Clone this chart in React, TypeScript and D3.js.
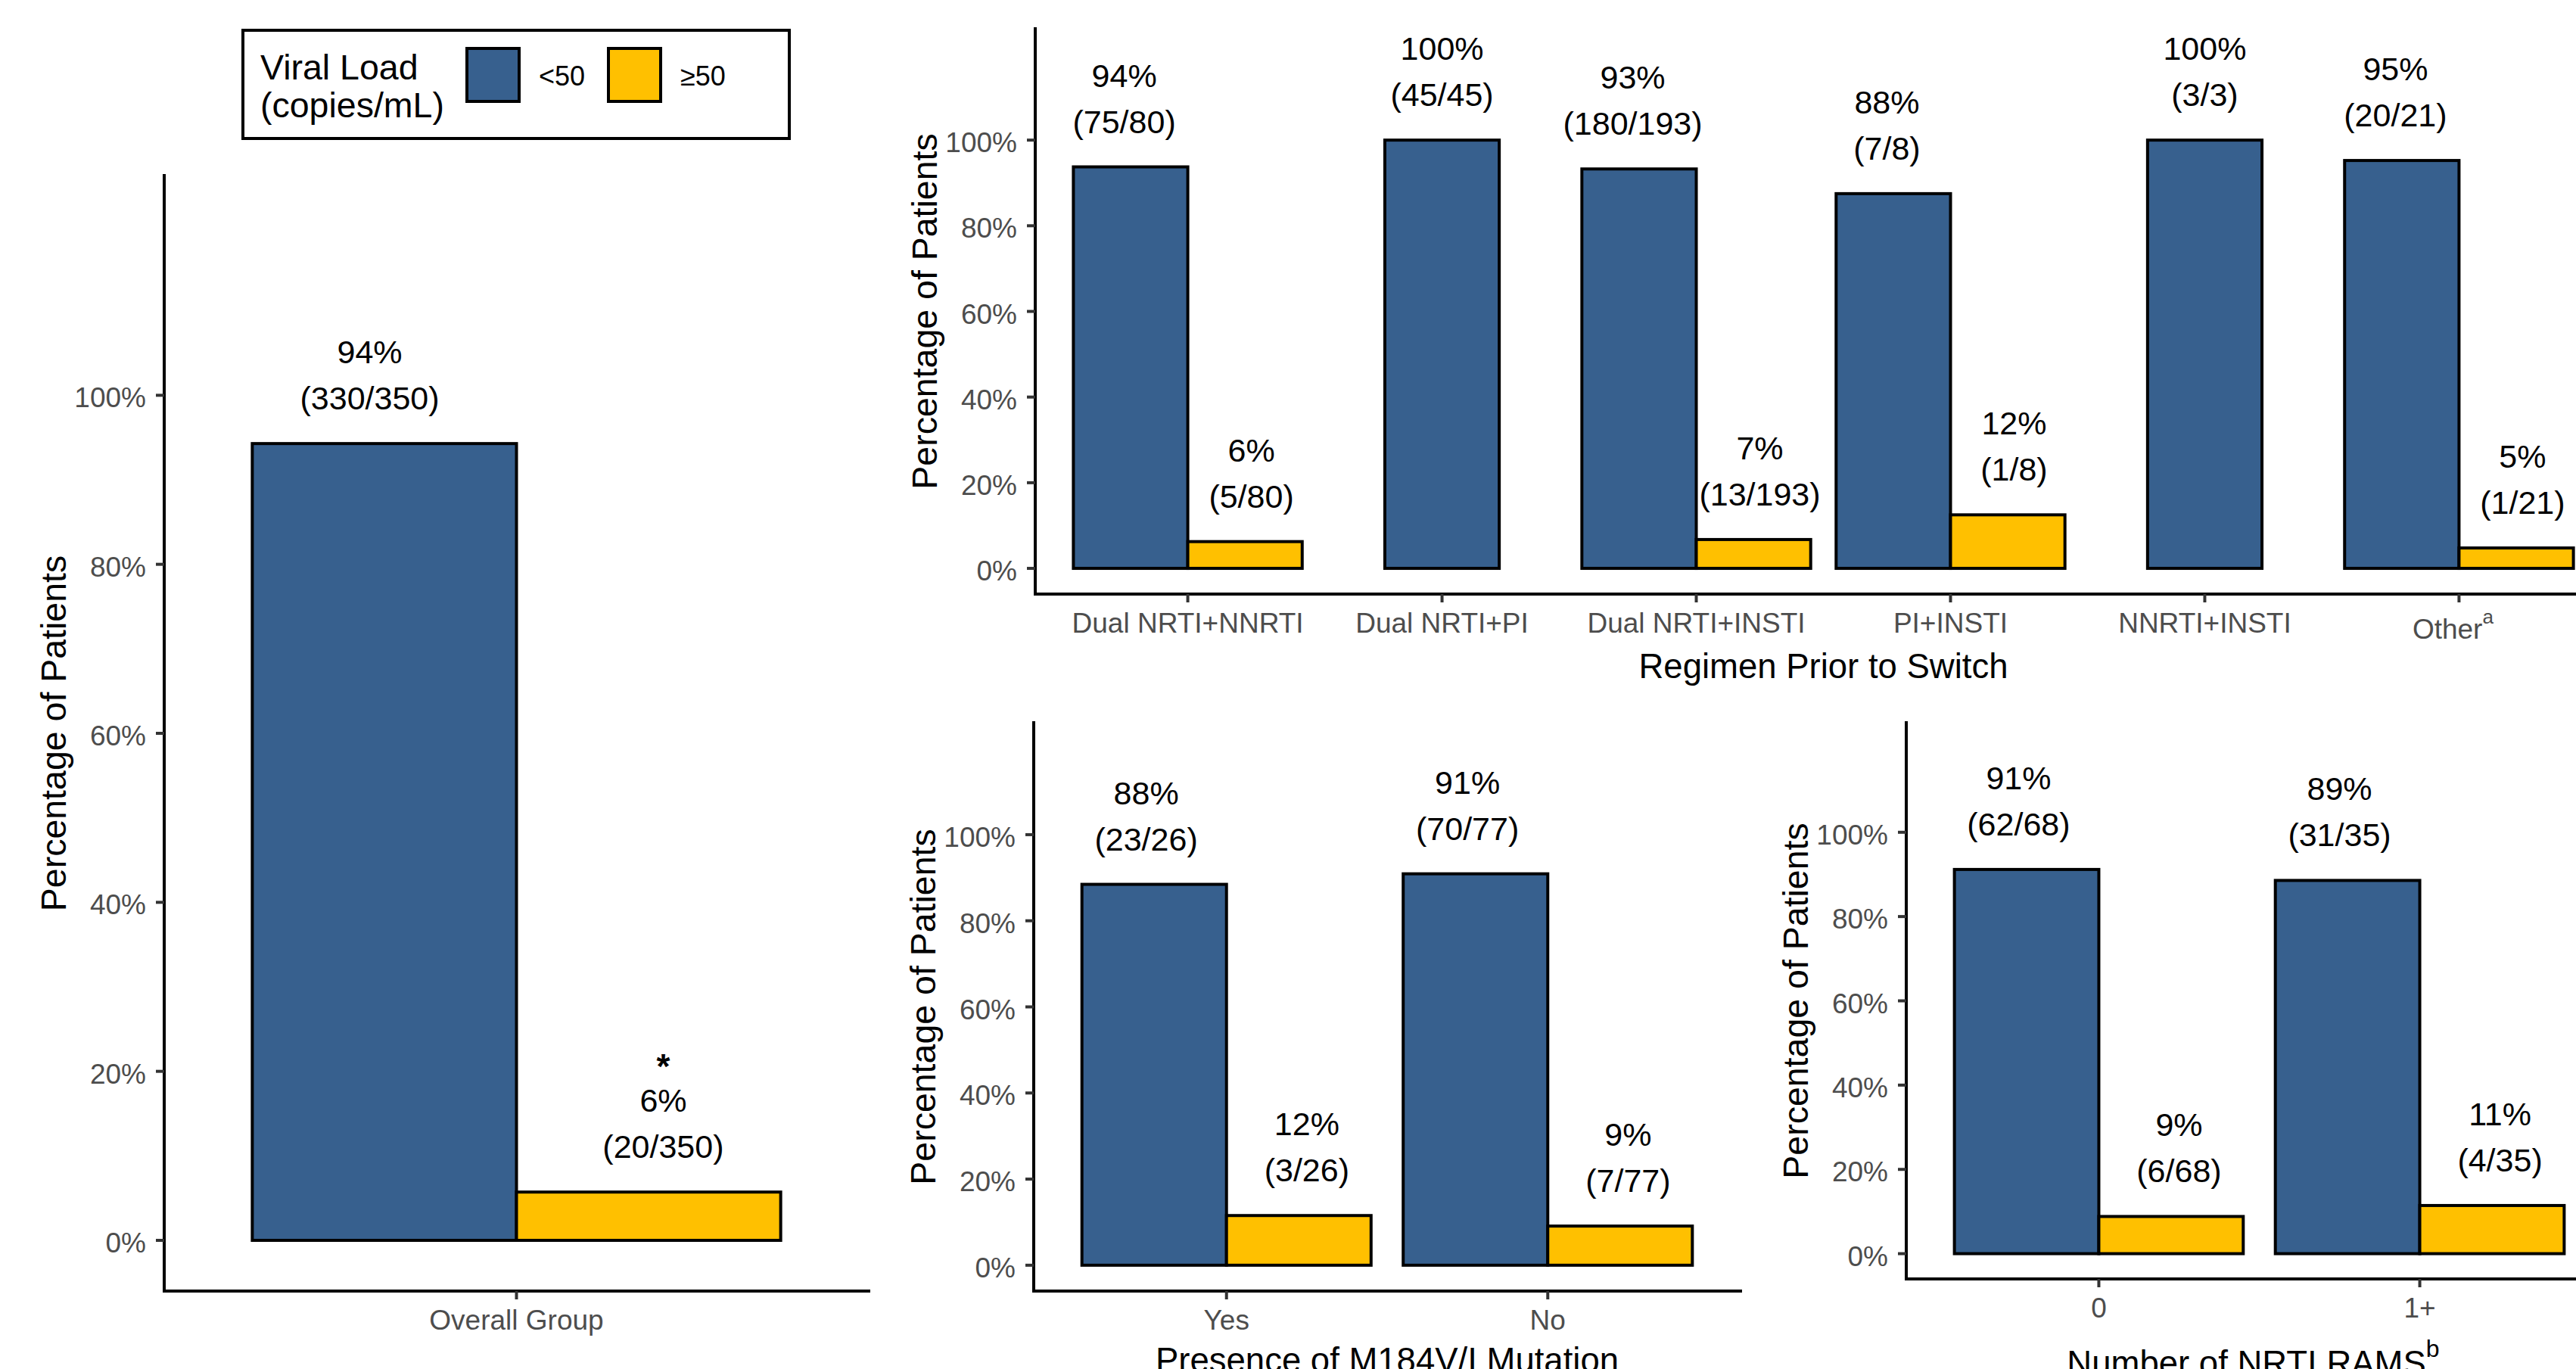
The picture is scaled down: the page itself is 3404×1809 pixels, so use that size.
import React from "react";
import * as d3 from "d3";

const BLUE = "#37608e";
const GOLD = "#ffc000";
const AXIS_GREY = "#4d4d4d";
const FONT = "'Liberation Sans', Arial, Helvetica, sans-serif";

// y ticks shared by every panel
const yTicks = [0, 0.2, 0.4, 0.6, 0.8, 1.0];

// legend
const legendTitle = ["Viral Load", "(copies/mL)"];
const legendKeys = ["<50", "≥50"];

// overall group
const overallCats = ["Overall Group"];
const overallSup = [""];
const overallBelow = [330];
const overallAbove = [20];
const overallTotal = [350];
const overallBelowPct = ["94%"];
const overallAbovePct = ["6%"];

// regimen prior to switch
const regimenCats = ["Dual NRTI+NNRTI", "Dual NRTI+PI", "Dual NRTI+INSTI", "PI+INSTI", "NNRTI+INSTI", "Other"];
const regimenSup = ["", "", "", "", "", "a"];
const regimenBelow = [75, 45, 180, 7, 3, 20];
const regimenAbove = [5, null, 13, 1, null, 1];
const regimenTotal = [80, 45, 193, 8, 3, 21];
const regimenBelowPct = ["94%", "100%", "93%", "88%", "100%", "95%"];
const regimenAbovePct = ["6%", "", "7%", "12%", "", "5%"];

// M184V/I mutation
const mutationCats = ["Yes", "No"];
const mutationSup = ["", ""];
const mutationBelow = [23, 70];
const mutationAbove = [3, 7];
const mutationTotal = [26, 77];
const mutationBelowPct = ["88%", "91%"];
const mutationAbovePct = ["12%", "9%"];

// NRTI RAMs
const ramsCats = ["0", "1+"];
const ramsSup = ["", ""];
const ramsBelow = [62, 31];
const ramsAbove = [6, 4];
const ramsTotal = [68, 35];
const ramsBelowPct = ["91%", "89%"];
const ramsAbovePct = ["9%", "11%"];

type PanelProps = {
  x0: number; x1: number; yTop: number; yBot: number;
  cats: string[]; sup: string[];
  below: (number | null)[]; above: (number | null)[]; total: number[];
  belowPct: string[]; abovePct: string[];
  xTitle: string; xTitleSup?: string; titleY: number;
  star?: boolean;
};

const Panel = (p: PanelProps) => {
  const x = d3.scalePoint<string>().domain(p.cats).range([p.x0, p.x1]).padding(0.6);
  const step = x.step();
  const y = d3.scaleLinear().domain([-0.06, 1.26]).range([p.yBot, p.yTop]);
  const midY = (p.yTop + p.yBot) / 2;
  const pctFmt = d3.format(".0%");

  const bars: JSX.Element[] = [];
  const labels: JSX.Element[] = [];
  p.cats.forEach((c, i) => {
    const cx = x(c) as number;
    const hasAbove = p.above[i] != null;
    const series = [
      { v: p.below[i], pct: p.belowPct[i], fill: BLUE, side: -1 },
      { v: p.above[i], pct: p.abovePct[i], fill: GOLD, side: 1 },
    ];
    series.forEach((s, j) => {
      if (s.v == null) return;
      const frac = s.v / p.total[i];
      let bx0, bx1, lx;
      if (hasAbove) {
        bx0 = s.side < 0 ? cx - 0.45 * step : cx;
        bx1 = s.side < 0 ? cx : cx + 0.45 * step;
        lx = cx + s.side * 0.25 * step;
      } else {
        // lone bar gets centred on its tick
        bx0 = cx - 0.225 * step;
        bx1 = cx + 0.225 * step;
        lx = cx;
      }
      const top = y(frac);
      bars.push(
        <rect key={`b${i}-${j}`} x={bx0} y={top} width={bx1 - bx0} height={y(0) - top}
          fill={s.fill} stroke="#000" strokeWidth={4} />
      );
      labels.push(
        <g key={`l${i}-${j}`} fontSize={43} textAnchor="middle" fill="#000">
          <text x={lx} y={top - 106}>{s.pct || pctFmt(frac)}</text>
          <text x={lx} y={top - 45}>{`(${s.v}/${p.total[i]})`}</text>
          {p.star && s.side > 0 && (
            <text x={lx} y={top - 150} fontSize={46} fontWeight="bold">*</text>
          )}
        </g>
      );
    });
  });

  return (
    <g fontFamily={FONT}>
      {bars}
      {labels}
      <line x1={p.x0} x2={p.x0} y1={p.yTop} y2={p.yBot} stroke="#000" strokeWidth={4} strokeLinecap="square" />
      <line x1={p.x0} x2={p.x1} y1={p.yBot} y2={p.yBot} stroke="#000" strokeWidth={4} strokeLinecap="square" />
      {yTicks.map((t) => (
        <g key={t}>
          <line x1={p.x0 - 11} x2={p.x0} y1={y(t)} y2={y(t)} stroke="#333" strokeWidth={4} />
          <text x={p.x0 - 24} y={y(t) + 16} textAnchor="end" fontSize={37} fill={AXIS_GREY}>
            {pctFmt(t)}
          </text>
        </g>
      ))}
      {p.cats.map((c, i) => (
        <g key={c}>
          <line x1={x(c)} x2={x(c)} y1={p.yBot} y2={p.yBot + 11} stroke="#333" strokeWidth={4} />
          <text x={(x(c) as number) + (p.sup[i] ? -8 : 0)} y={p.yBot + 51 + (p.sup[i] ? 8 : 0)}
            textAnchor="middle" fontSize={37} fill={AXIS_GREY}>
            {c}
            {p.sup[i] && <tspan dy={-20} fontSize={26}>{p.sup[i]}</tspan>}
          </text>
        </g>
      ))}
      <text transform={`translate(${p.x0 - 130},${midY}) rotate(-90)`} textAnchor="middle" fontSize={46.5} fill="#000">
        Percentage of Patients
      </text>
      <text x={(p.x0 + p.x1) / 2 - (p.xTitleSup ? 8 : 0)} y={p.titleY} textAnchor="middle" fontSize={45.5} fill="#000">
        {p.xTitle}
        {p.xTitleSup && <tspan dy={-24} fontSize={32}>{p.xTitleSup}</tspan>}
      </text>
    </g>
  );
};

const Legend = () => (
  <g fontFamily={FONT}>
    <rect x={321} y={40} width={722} height={143} fill="#fff" stroke="#000" strokeWidth={4} />
    <text x={344} y={105} fontSize={46.5}>{legendTitle[0]}</text>
    <text x={344} y={155} fontSize={46.5}>{legendTitle[1]}</text>
    {legendKeys.map((k, i) => (
      <g key={k}>
        <rect x={617 + i * 187} y={64} width={69} height={70} fill={i === 0 ? BLUE : GOLD} stroke="#000" strokeWidth={4} />
        <text x={712 + i * 187} y={113} fontSize={36}>{k}</text>
      </g>
    ))}
  </g>
);

export default function App() {
  return (
    <svg width={3404} height={1809} style={{ position: "absolute", left: 0, top: 0, display: "block", background: "#fff" }}>
      <rect width={3404} height={1809} fill="#fff" />
      <Legend />
      <Panel x0={217} x1={1148} yTop={232} yBot={1706}
        cats={overallCats} sup={overallSup} below={overallBelow} above={overallAbove} total={overallTotal}
        belowPct={overallBelowPct} abovePct={overallAbovePct} xTitle="" titleY={1830} star />
      <Panel x0={1368} x1={3451} yTop={38} yBot={785}
        cats={regimenCats} sup={regimenSup} below={regimenBelow} above={regimenAbove} total={regimenTotal}
        belowPct={regimenBelowPct} abovePct={regimenAbovePct} xTitle="Regimen Prior to Switch" titleY={896} />
      <Panel x0={1366} x1={2300} yTop={955} yBot={1706}
        cats={mutationCats} sup={mutationSup} below={mutationBelow} above={mutationAbove} total={mutationTotal}
        belowPct={mutationBelowPct} abovePct={mutationAbovePct} xTitle="Presence of M184V/I Mutation" titleY={1813} />
      <Panel x0={2519} x1={3452} yTop={955} yBot={1690}
        cats={ramsCats} sup={ramsSup} below={ramsBelow} above={ramsAbove} total={ramsTotal}
        belowPct={ramsBelowPct} abovePct={ramsAbovePct} xTitle="Number of NRTI RAMS" xTitleSup="b" titleY={1817} />
    </svg>
  );
}
